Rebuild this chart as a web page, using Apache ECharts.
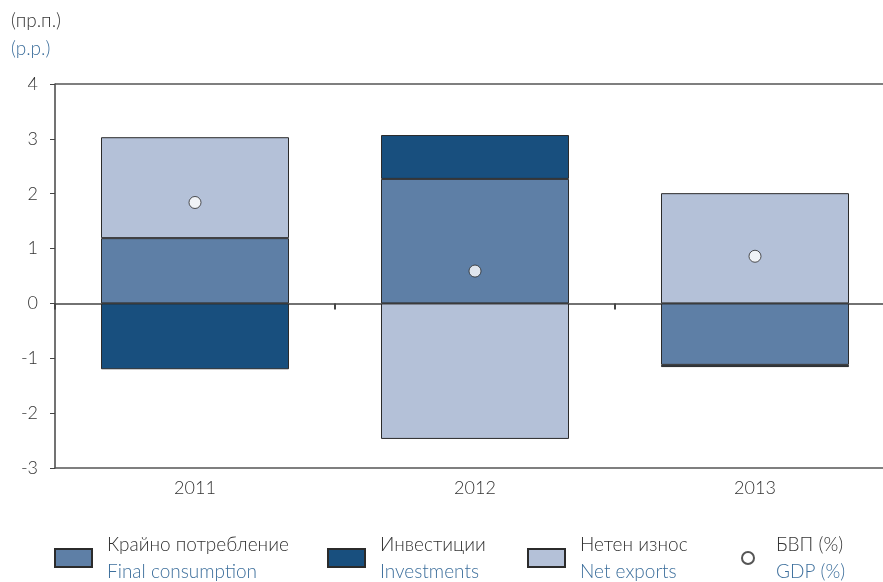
<!DOCTYPE html>
<html>
<head>
<meta charset="utf-8">
<script src="https://cdn.jsdelivr.net/npm/echarts@6/dist/echarts.min.js"></script>
<style>
  html, body { margin: 0; padding: 0; background: #fff; }
  #main { width: 883px; height: 582px; }
</style>
</head>
<body>
<div id="main"></div>
<script>
// данни (пр.п.)
var years = ['2011', '2012', '2013'];
var finalConsumption = [1.19, 2.27, -1.12];
var investments = [-1.2, 0.8, -0.04];
var netExports = [1.84, -2.47, 2.01];
var gdp = [1.84, 0.59, 0.86];
var yTicks = [-3, -2, -1, 0, 1, 2, 3, 4];

var FONT = 'Lato, "Noto Sans", sans-serif';
var GREY = '#333';
var BLUE = '#3d6f9c';

var myChart = echarts.init(document.getElementById('main'));

function legendBox(name, left, icon, w, h, gap) {
    return {
        left: left,
        top: 535,
        padding: 0,
        data: [{ name: name, icon: icon }],
        itemWidth: w,
        itemHeight: h,
        selectedMode: false,
        formatter: function (n) {
            var parts = n.split('|');
            return '{a|' + parts[0] + '}\n{b|' + parts[1] + '}';
        },
        textStyle: {
            padding: [0, 0, 0, gap],
            rich: {
                a: { fontFamily: FONT, fontSize: 19, fontWeight: 300, color: GREY, lineHeight: 27 },
                b: { fontFamily: FONT, fontSize: 19, fontWeight: 300, color: BLUE, lineHeight: 27 }
            }
        }
    };
}

var barStyle = function (color) {
    return { color: color, borderColor: '#2b2b2b', borderWidth: 1 };
};

var option = {
    animation: false,
    title: {
        left: 6,
        top: 2,
        text: '{a|(пр.п.)}\n{b|(p.p.)}',
        textStyle: {
            rich: {
                a: { fontFamily: FONT, fontSize: 19, fontWeight: 300, color: GREY, lineHeight: 28 },
                b: { fontFamily: FONT, fontSize: 19, fontWeight: 300, color: BLUE, lineHeight: 28 }
            }
        }
    },
    legend: [
        legendBox('Крайно потребление|Final consumption', 54, 'rect', 37, 18, 10),
        legendBox('Инвестиции|Investments', 327, 'rect', 37, 18, 10),
        legendBox('Нетен износ|Net exports', 527, 'rect', 37, 18, 10),
        legendBox('БВП (%)|GDP (%)', 741, 'circle', 12, 12, 17)
    ],
    grid: { left: 55, top: 84, width: 840, height: 384, outerBoundsMode: 'none' },
    xAxis: [
        {
            type: 'category',
            data: years,
            position: 'bottom',
            axisLine: { onZero: false, lineStyle: { color: '#555', width: 1.5 } },
            axisTick: { show: false },
            axisLabel: { fontFamily: FONT, fontSize: 18, fontWeight: 300, color: GREY, margin: 11 }
        },
        {
            type: 'category',
            data: years,
            position: 'top',
            axisLine: { onZero: true, lineStyle: { color: '#444', width: 1.5 } },
            axisTick: { show: true, inside: true, length: 6, lineStyle: { color: '#444', width: 2 } },
            axisLabel: { show: false }
        }
    ],
    yAxis: {
        type: 'value',
        min: -3,
        max: 4,
        interval: 1,
        axisLine: { show: true, lineStyle: { color: '#444', width: 1.5 } },
        axisTick: { show: true, length: 5, lineStyle: { color: '#444' } },
        splitLine: { show: false },
        axisLabel: {
            fontFamily: FONT, fontSize: 18, fontWeight: 300, color: GREY, margin: 17,
            formatter: function (v) { return yTicks.indexOf(v) >= 0 ? String(v) : ''; }
        }
    },
    series: [
        {
            name: 'Крайно потребление|Final consumption',
            type: 'bar', stack: 'g', barWidth: 188,
            itemStyle: barStyle('#5e7fa6'),
            data: finalConsumption,
            markLine: {
                silent: true, symbol: 'none', label: { show: false },
                lineStyle: { color: '#555', width: 1.5, type: 'solid' },
                data: [{ yAxis: 4 }]
            }
        },
        {
            name: 'Инвестиции|Investments',
            type: 'bar', stack: 'g', barWidth: 188,
            itemStyle: barStyle('#184f7e'),
            data: investments
        },
        {
            name: 'Нетен износ|Net exports',
            type: 'bar', stack: 'g', barWidth: 188,
            itemStyle: barStyle('#b4c1d8'),
            data: netExports
        },
        {
            name: 'БВП (%)|GDP (%)',
            type: 'scatter',
            symbol: 'circle',
            symbolSize: 12,
            itemStyle: { color: '#fff', borderColor: '#2b2b2b', borderWidth: 1 },
            data: gdp,
            z: 5
        }
    ]
};
myChart.setOption(option);
</script>
</body>
</html>
